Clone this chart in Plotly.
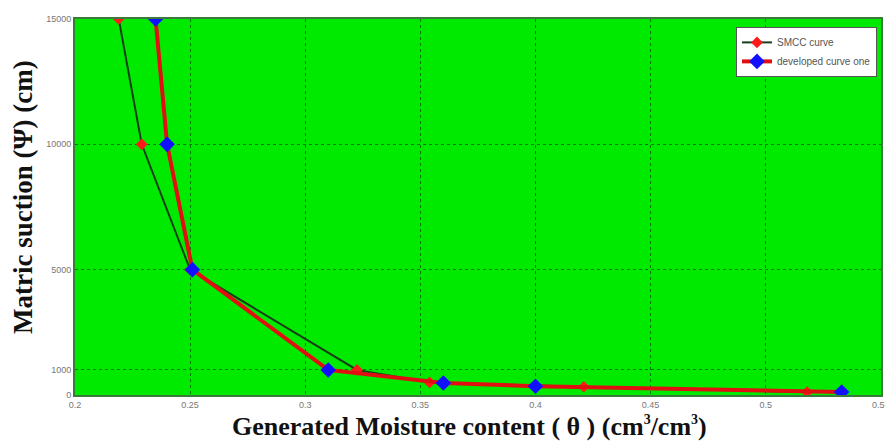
import plotly.graph_objects as go

# SMCC curve
smcc_theta = [0.219, 0.229, 0.250, 0.3225, 0.354, 0.421, 0.518]
smcc_psi = [15000, 10000, 5000, 1000, 500, 330, 120]

# developed curve one
dev_theta = [0.235, 0.240, 0.251, 0.310, 0.360, 0.400, 0.533]
dev_psi = [15000, 10000, 5000, 1000, 480, 350, 120]

x_ticks = [0.2, 0.25, 0.3, 0.35, 0.4, 0.45, 0.5, 0.55]
x_tick_labels = ["0.2", "0.25", "0.3", "0.35", "0.4", "0.45", "0.5", "0.55"]
y_ticks = [0, 1000, 5000, 10000, 15000]
y_tick_labels = ["0", "1000", "5000", "10000", "15000"]

x_title = ("<b>Generated Moisture content ( θ ) (cm<sup><span style='font-size:14px'>3</span></sup>"
           "/cm<sup><span style='font-size:14px'>3</span></sup>)</b>")
y_title = "<b>Matric suction (Ψ) (cm)</b>"

fig = go.Figure()
fig.add_trace(go.Scatter(
    x=smcc_theta, y=smcc_psi, mode="lines+markers", name="SMCC curve",
    line=dict(color="#173f17", width=2),
    marker=dict(symbol="diamond", size=9, color="#ff1a1a"),
))
fig.add_trace(go.Scatter(
    x=dev_theta, y=dev_psi, mode="lines+markers", name="developed curve one",
    line=dict(color="#e01010", width=4),
    marker=dict(symbol="diamond", size=12, color="#1010ff"),
))

grid = dict(showgrid=True, gridcolor="rgba(0,80,0,0.75)", griddash="dot", gridwidth=1.2)
title_font = dict(family="Liberation Serif, Times New Roman", color="#111111")
fig.update_layout(
    width=885, height=438,
    margin=dict(l=67, r=12, t=11, b=51),
    paper_bgcolor="white", plot_bgcolor="#00ea00",
    font=dict(family="Liberation Sans, Arial", color="#777777", size=9),
    xaxis=dict(range=[0.2, 0.5501], tickvals=x_ticks, ticktext=x_tick_labels,
               ticks="", zeroline=False, showline=True, linecolor="#3a7a3a", linewidth=2,
               mirror=True, automargin=False, ticklabeloverflow="allow", **grid),
    yaxis=dict(range=[0, 15000], tickvals=y_ticks, ticktext=y_tick_labels,
               ticks="", zeroline=False, showline=True, linecolor="#3a7a3a", linewidth=2,
               mirror=True, automargin=False, ticklabeloverflow="allow", **grid),
    legend=dict(x=0.995, y=0.979, xanchor="right", yanchor="top",
                bgcolor="white", bordercolor="#555555", borderwidth=1,
                font=dict(size=10, color="#555555"), tracegroupgap=0,
                itemwidth=30),
    showlegend=True,
    annotations=[
        dict(text=x_title, xref="paper", yref="paper", x=0.490, y=-0.0851,
             xanchor="center", yanchor="middle", showarrow=False,
             font=dict(size=26, **title_font)),
        dict(text=y_title, xref="paper", yref="paper", x=-0.0645, y=0.5266,
             xanchor="center", yanchor="middle", showarrow=False, textangle=-90,
             font=dict(size=27, **title_font)),
    ],
)
fig.write_html("out.html")
